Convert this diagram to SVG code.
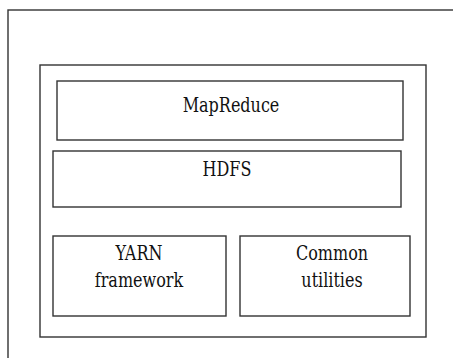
<svg xmlns="http://www.w3.org/2000/svg" width="453" height="358" viewBox="0 0 453 358">
<style>
.box{fill:#fff;stroke:#333;stroke-width:1.4}
.t{font-family:'DejaVu Serif',serif;font-size:16px;fill:#111;text-anchor:middle}
</style>
<rect width="453" height="358" fill="#fff"/>
<g id="outer"><rect class="box" x="8" y="10" width="460" height="360"/></g>
<g id="hadoop"><rect class="box" x="40" y="65" width="386" height="272"/></g>
<g id="mapreduce"><rect class="box" x="57" y="81" width="346" height="59"/><text class="t" transform="translate(231,112) scale(1,1.25)">MapReduce</text></g>
<g id="hdfs"><rect class="box" x="53" y="151" width="348" height="56"/><text class="t" transform="translate(227,176) scale(1,1.25)">HDFS</text></g>
<g id="yarn"><rect class="box" x="53" y="236" width="173" height="80"/><text class="t" transform="translate(139,260) scale(1,1.25)">YARN</text><text class="t" transform="translate(139,287) scale(1,1.25)">framework</text></g>
<g id="common"><rect class="box" x="240" y="236" width="170" height="80"/><text class="t" transform="translate(332,260) scale(1,1.25)">Common</text><text class="t" transform="translate(332,287) scale(1,1.25)">utilities</text></g>
<g id="connectors"></g>
</svg>
